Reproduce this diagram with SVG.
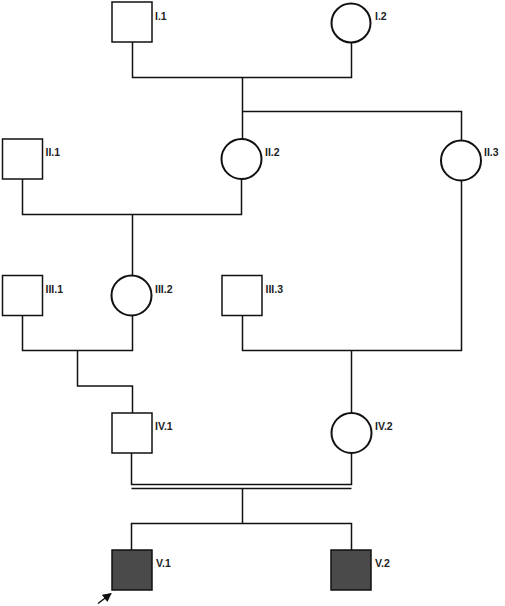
<svg xmlns="http://www.w3.org/2000/svg" width="505" height="606" viewBox="0 0 505 606">
<style>
.m{fill:#fff;stroke:#111;stroke-width:1.5}
.f{fill:#fff;stroke:#111;stroke-width:2}
.a{fill:#4a4a4a;stroke:#111;stroke-width:1.5}
.l{font-family:"Liberation Sans",Arial,sans-serif;font-size:10.5px;font-weight:bold;fill:#222}
.c{fill:none;stroke:#111;stroke-width:1.5}
</style>
<defs>
<marker id="ah" viewBox="0 0 10 10" refX="9" refY="5" markerWidth="6" markerHeight="6" orient="auto">
<path d="M0,0 L10,5 L0,10 z" fill="#111"/>
</marker>
</defs>
<rect width="505" height="606" fill="#fff"/>
<g id="connectors">
<path class="c" d="M132.5,42 V77.5 H351.5 V43"/>
<path class="c" d="M242.5,77.5 V139"/>
<path class="c" d="M242.5,111.5 H461.5 V140.5"/>
<path class="c" d="M22.5,179 V214.5 H241.5 V179"/>
<path class="c" d="M132.5,214.5 V276"/>
<path class="c" d="M22.5,315.5 V350.5 H132.5 V315.5"/>
<path class="c" d="M77.5,350.5 V386 H132.5 V413"/>
<path class="c" d="M242.5,315.5 V350.5 H461.5 V180.5"/>
<path class="c" d="M351.5,350.5 V413"/>
<path class="c" d="M131.5,453 V484.5 H351.5 V453"/>
<path class="c" d="M131.5,488.5 H351.5"/>
<path class="c" d="M242.5,488.5 V523.5"/>
<path class="c" d="M131.5,550 V523.5 H351.5 V550"/>
<line class="c" x1="98" y1="603.5" x2="111" y2="593.5" marker-end="url(#ah)"/>
</g>
<g id="I.1"><rect class="m" x="112" y="2" width="40" height="40"/><text class="l" x="155" y="19.5">I.1</text></g>
<g id="I.2"><circle class="f" cx="351" cy="23" r="19.5"/><text class="l" x="375" y="19.5">I.2</text></g>
<g id="II.1"><rect class="m" x="2.5" y="139" width="40" height="40"/><text class="l" x="45.5" y="156">II.1</text></g>
<g id="II.2"><circle class="f" cx="241.5" cy="159" r="20"/><text class="l" x="265" y="156">II.2</text></g>
<g id="II.3"><circle class="f" cx="461" cy="160.5" r="20"/><text class="l" x="484" y="156">II.3</text></g>
<g id="III.1"><rect class="m" x="2.5" y="275.5" width="40" height="40"/><text class="l" x="45.5" y="293">III.1</text></g>
<g id="III.2"><circle class="f" cx="131.5" cy="295.5" r="20"/><text class="l" x="155" y="293">III.2</text></g>
<g id="III.3"><rect class="m" x="222" y="275.5" width="40" height="40"/><text class="l" x="265.5" y="293">III.3</text></g>
<g id="IV.1"><rect class="m" x="112" y="413" width="40" height="40"/><text class="l" x="155" y="430">IV.1</text></g>
<g id="IV.2"><circle class="f" cx="351.5" cy="433" r="20"/><text class="l" x="375" y="430">IV.2</text></g>
<g id="V.1"><rect class="a" x="112" y="550" width="40" height="40"/><text class="l" x="156" y="567">V.1</text></g>
<g id="V.2"><rect class="a" x="331" y="550" width="40" height="40"/><text class="l" x="375" y="567">V.2</text></g>
</svg>
